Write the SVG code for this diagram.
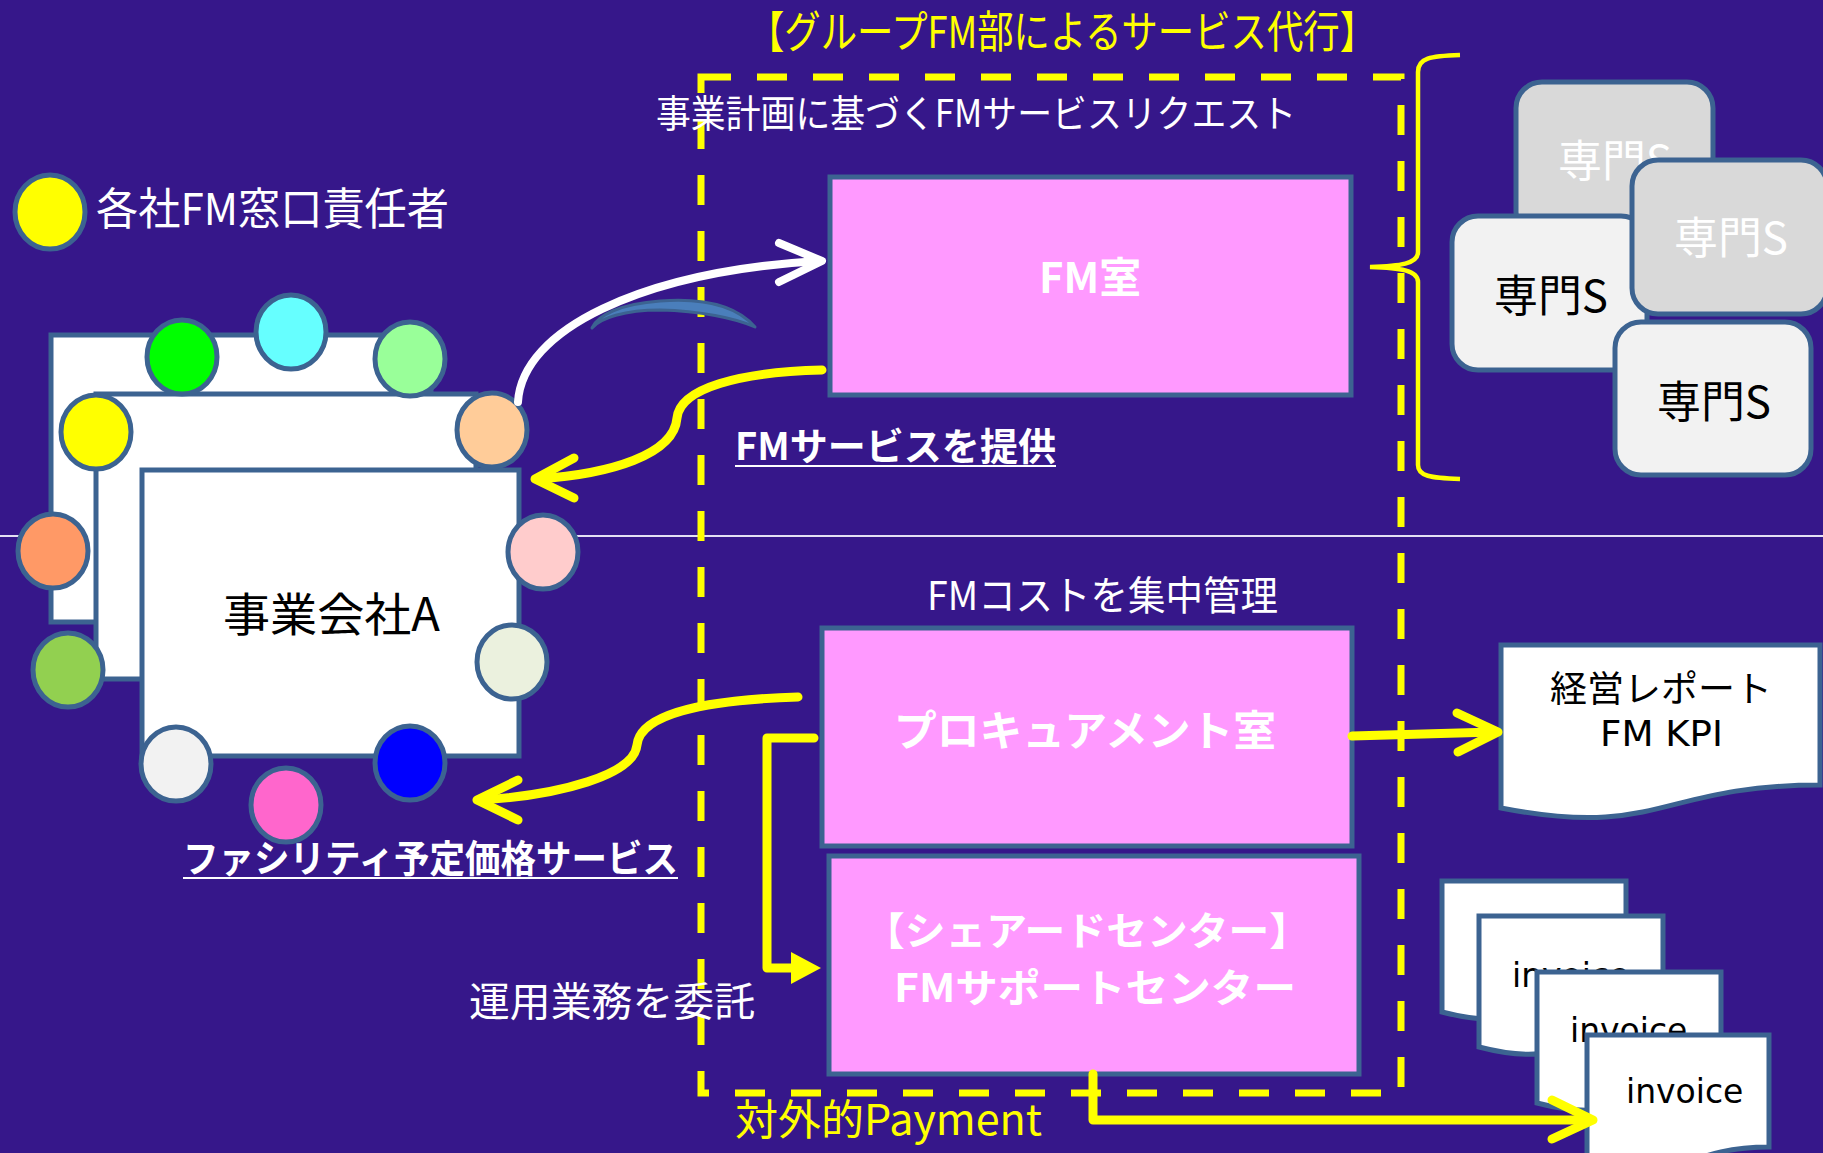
<svg xmlns="http://www.w3.org/2000/svg" width="1823" height="1153" viewBox="0 0 1823 1153">
<defs>
<style>
.jp{font-family:"Noto Sans CJK JP","Noto Sans",sans-serif}
.dv{font-family:"DejaVu Sans","Noto Sans",sans-serif}
.w{fill:#fff}
.y{fill:#ff0}
.k{fill:#000}
.b{font-weight:bold}
.mid{text-anchor:middle}
.node{stroke:#3c6391;stroke-width:5}
.pink{fill:#ff99ff}
.doc{fill:#fff;stroke:#3c6391;stroke-width:5}
.spec{stroke:#3c6391;stroke-width:5}
.g1{fill:#d9d9d9}
.g2{fill:#f2f2f2}
.dot{stroke:#3c6391;stroke-width:5}
.yl{fill:none;stroke:#ff0;stroke-width:9;stroke-linecap:round;stroke-linejoin:round}
.wl{fill:none;stroke:#fff;stroke-width:8;stroke-linecap:round;stroke-linejoin:round}
.ul{stroke:#fff;stroke-width:2}
</style>
</defs>
<rect x="0" y="0" width="1823" height="1153" fill="#36178a"/>
<line x1="0" y1="536" x2="1823" y2="536" stroke="#e4e0f4" stroke-width="2"/>

<g id="group-fm">
<rect x="701" y="77" width="700" height="1016" fill="none" stroke="#ff0" stroke-width="7" stroke-dasharray="30 26"/>
<text class="jp y" x="748" y="48" font-size="44" textLength="628" lengthAdjust="spacingAndGlyphs">【グループFM部によるサービス代行】</text>
</g>

<g id="legend">
<ellipse class="dot" cx="50" cy="212" rx="35" ry="37" fill="#ffff00"/>
<text class="jp w" x="96" y="225" font-size="44" textLength="353" lengthAdjust="spacingAndGlyphs">各社FM窓口責任者</text>
</g>

<g id="company">
<rect class="node" x="51" y="335" width="380" height="287" fill="#fff"/>
<rect class="node" x="96" y="394" width="380" height="285" fill="#fff"/>
<rect class="node" x="142" y="470" width="377" height="286" fill="#fff"/>
<text class="jp k" x="223" y="631" font-size="46" textLength="217" lengthAdjust="spacingAndGlyphs">事業会社A</text>
</g>

<g id="members">
<ellipse class="dot" cx="182" cy="357" rx="35" ry="37" fill="#00ff00"/>
<ellipse class="dot" cx="291" cy="332" rx="35" ry="37" fill="#66ffff"/>
<ellipse class="dot" cx="410" cy="359" rx="35" ry="37" fill="#99ff99"/>
<ellipse class="dot" cx="96" cy="432" rx="35" ry="37" fill="#ffff00"/>
<ellipse class="dot" cx="492" cy="430" rx="35" ry="37" fill="#ffcc99"/>
<ellipse class="dot" cx="53" cy="551" rx="35" ry="37" fill="#ff9966"/>
<ellipse class="dot" cx="543" cy="552" rx="35" ry="37" fill="#ffcccc"/>
<ellipse class="dot" cx="68" cy="670" rx="35" ry="37" fill="#92d050"/>
<ellipse class="dot" cx="512" cy="662" rx="35" ry="37" fill="#ebf1de"/>
<ellipse class="dot" cx="176" cy="764" rx="35" ry="37" fill="#f2f2f2"/>
<ellipse class="dot" cx="286" cy="805" rx="35" ry="37" fill="#ff66cc"/>
<ellipse class="dot" cx="410" cy="763" rx="35" ry="37" fill="#0000ff"/>
</g>

<g id="fm-room">
<rect class="node pink" x="830" y="177" width="521" height="218"/>
<text class="jp w b mid" x="1090" y="293" font-size="42" textLength="102" lengthAdjust="spacingAndGlyphs">FM室</text>
</g>

<g id="procurement">
<rect class="node pink" x="822" y="628" width="530" height="218"/>
<text class="jp w b" x="894" y="746" font-size="42" textLength="382" lengthAdjust="spacingAndGlyphs">プロキュアメント室</text>
</g>

<g id="shared-center">
<rect class="node pink" x="829" y="856" width="530" height="218"/>
<text class="jp w b" font-size="39" lengthAdjust="spacingAndGlyphs"><tspan x="864" y="945" textLength="446" lengthAdjust="spacingAndGlyphs">【シェアードセンター】</tspan><tspan x="894" y="1002" textLength="402" lengthAdjust="spacingAndGlyphs">FMサポートセンター</tspan></text>
</g>

<g id="specialists">
<rect class="spec g1" x="1516" y="82" width="197" height="156" rx="26"/>
<text class="jp w mid" x="1615" y="177" font-size="44" textLength="114" lengthAdjust="spacingAndGlyphs">専門S</text>
<rect class="spec g2" x="1452" y="216" width="195" height="154" rx="26"/>
<text class="jp k mid" x="1551" y="312" font-size="44" textLength="114" lengthAdjust="spacingAndGlyphs">専門S</text>
<rect class="spec g1" x="1632" y="160" width="195" height="154" rx="26"/>
<text class="jp w mid" x="1731" y="254" font-size="44" textLength="114" lengthAdjust="spacingAndGlyphs">専門S</text>
<rect class="spec g2" x="1615" y="322" width="196" height="153" rx="26"/>
<text class="jp k mid" x="1714" y="418" font-size="44" textLength="114" lengthAdjust="spacingAndGlyphs">専門S</text>
</g>

<g id="report">
<path class="doc" d="M1501,645 L1820,645 L1820,785 C1660,785 1660,839 1501,808 Z"/>
<text class="jp k" x="1550" y="702" font-size="36" textLength="222" lengthAdjust="spacingAndGlyphs">経営レポート</text>
<text class="dv k" x="1600" y="746" font-size="36" textLength="123" lengthAdjust="spacingAndGlyphs">FM KPI</text>
</g>

<g id="invoices">
<path class="doc" d="M1442,881 L1626,881 L1626,993 C1534,993 1534,1036 1442,1012 Z"/>
<path class="doc" d="M1479,916 L1663,916 L1663,1028 C1571,1028 1571,1071 1479,1047 Z"/>
<text class="dv k" x="1512" y="987" font-size="33">invoice</text>
<path class="doc" d="M1537,972 L1721,972 L1721,1084 C1629,1084 1629,1127 1537,1103 Z"/>
<text class="dv k" x="1570" y="1042" font-size="33">invoice</text>
<path class="doc" d="M1587,1035 L1769,1035 L1769,1147 C1678,1147 1678,1190 1587,1166 Z"/>
<text class="dv k" x="1626" y="1103" font-size="33">invoice</text>
</g>

<g id="labels">
<text class="jp w" x="656" y="127" font-size="38" textLength="640" lengthAdjust="spacingAndGlyphs">事業計画に基づくFMサービスリクエスト</text>
<text class="jp w b" x="735" y="460" font-size="38" textLength="321" lengthAdjust="spacingAndGlyphs">FMサービスを提供</text>
<line class="ul" x1="735" y1="466" x2="1056" y2="466"/>
<text class="jp w" x="927" y="610" font-size="40" textLength="351" lengthAdjust="spacingAndGlyphs">FMコストを集中管理</text>
<text class="jp w b" x="183" y="872" font-size="38" textLength="495" lengthAdjust="spacingAndGlyphs">ファシリティ予定価格サービス</text>
<line class="ul" x1="183" y1="878" x2="678" y2="878"/>
<text class="jp w" x="469" y="1016" font-size="40" textLength="286" lengthAdjust="spacingAndGlyphs">運用業務を委託</text>
<text class="jp y" x="735" y="1135" font-size="42" textLength="307" lengthAdjust="spacingAndGlyphs">対外的Payment</text>
</g>

<g id="connectors">
<path d="M592,328 C598,315 620,304 660,301 C700,298 735,304 755,327 C735,318 700,311 660,310 C625,310 600,318 592,328 Z" fill="#4a7ebb" stroke="#3c6391" stroke-width="3" stroke-linejoin="round"/>
<path class="wl" d="M518,402 C522,330 640,272 818,261"/>
<polyline class="wl" points="779,243 822,261 779,282"/>
<path class="yl" d="M822,370 C740,372 680,388 677,418 C674,455 610,474 538,479"/>
<polyline class="yl" points="574,458 535,479 574,498"/>
<path class="yl" d="M798,697 C700,700 640,715 637,745 C634,775 560,795 481,800"/>
<polyline class="yl" points="518,780 477,800 518,820"/>
<polyline class="yl" points="814,738 767,738 767,968 795,968"/>
<polygon points="791,952 821,968 791,984" fill="#ff0"/>
<path class="yl" d="M1352,736 L1494,732"/>
<polyline class="yl" points="1457,713 1498,732 1458,752"/>
<polyline class="yl" points="1093,1074 1093,1120 1589,1120"/>
<polyline class="yl" points="1552,1100 1593,1120 1552,1139"/>
<path d="M1460,55 C1430,56 1418,58 1418,72 L1418,252 C1418,264 1400,266 1370,267 C1400,268 1418,270 1418,282 L1418,465 C1418,476 1430,478 1460,479" fill="none" stroke="#ff0" stroke-width="4.5"/>
</g>
</svg>
